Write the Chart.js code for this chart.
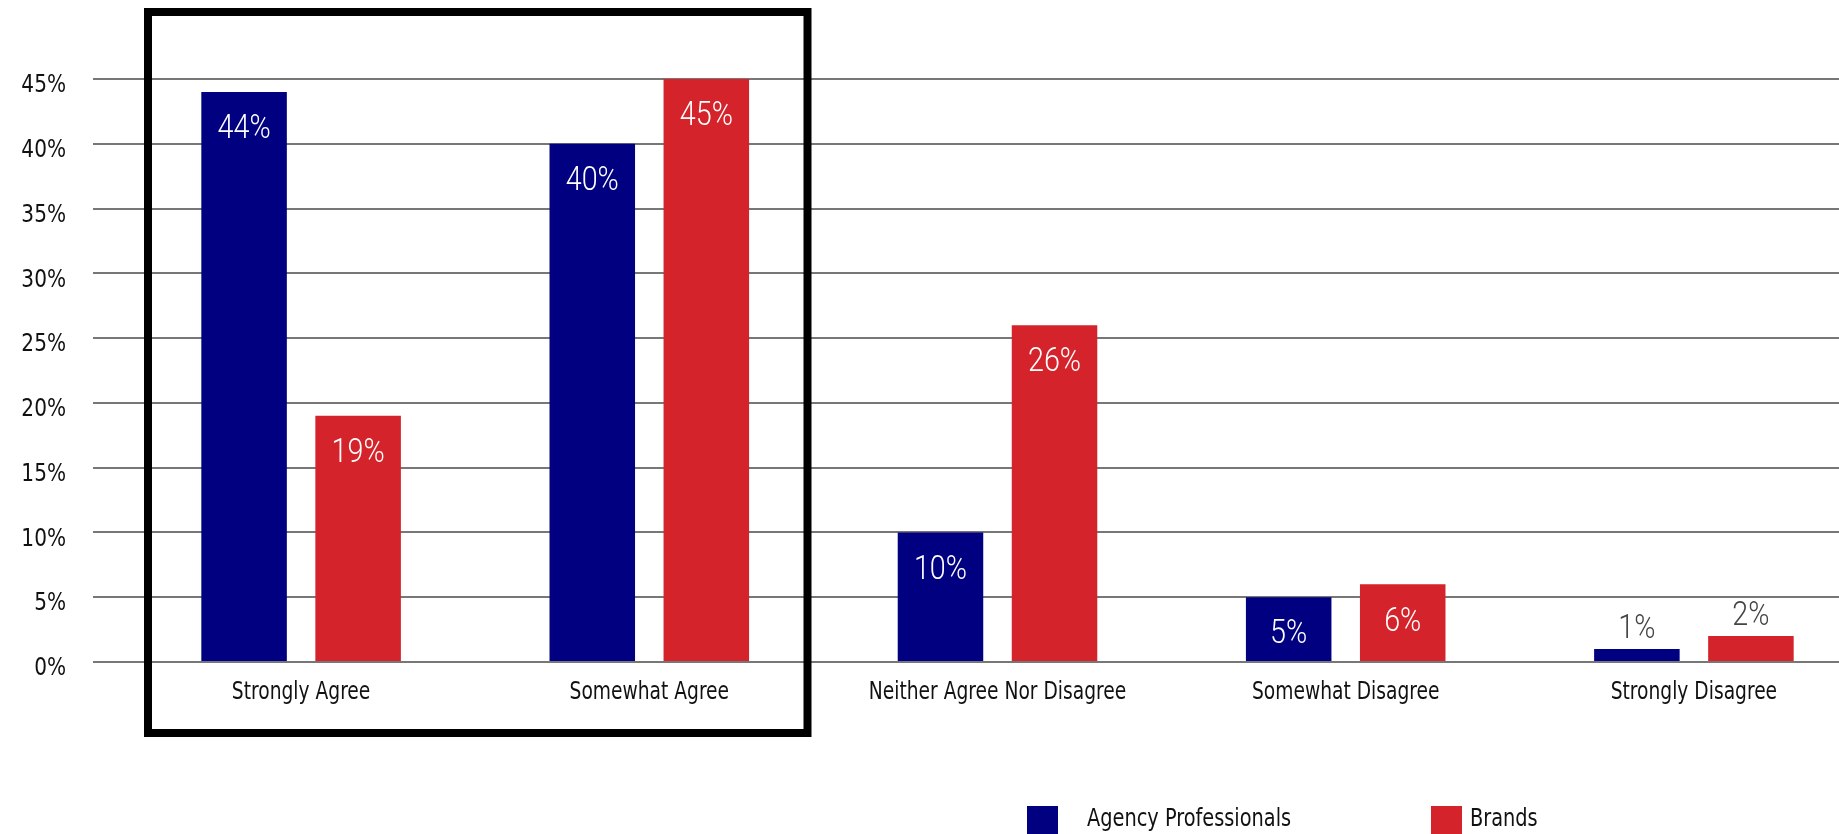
<!DOCTYPE html>
<html>
<head>
<meta charset="utf-8">
<script src="https://cdn.jsdelivr.net/npm/chart.js@4/dist/chart.umd.min.js"></script>
<style>
  html, body { margin: 0; padding: 0; background: #fff; overflow: hidden; }
  #wrap { position: relative; width: 1868px; height: 834px; }
</style>
</head>
<body>
<div id="wrap"><canvas id="c"></canvas></div>
<script>
// Survey responses, share of respondents (%)
const categories = ['Strongly Agree', 'Somewhat Agree', 'Neither Agree Nor Disagree', 'Somewhat Disagree', 'Strongly Disagree'];
const agencyValues = [44, 40, 10, 5, 1];
const brandValues = [19, 45, 26, 6, 2];
const seriesNames = ['Agency Professionals', 'Brands'];
const yTickValues = [0, 5, 10, 15, 20, 25, 30, 35, 40, 45];
const yTickLabels = ['0%', '5%', '10%', '15%', '20%', '25%', '30%', '35%', '40%', '45%'];

const FONT = "'DejaVu Sans Condensed', 'DejaVu Sans', sans-serif";
const LIGHT_FONT = "Roboto, 'DejaVu Sans', sans-serif";
const NAVY = '#000080';
const RED = '#d4232b';

// Condensed text: horizontally squeezed fillText
function squeezedText(ctx, text, x, y, opts) {
  ctx.save();
  ctx.font = (opts.weight || 400) + ' ' + opts.size + 'px ' + (opts.family || FONT);
  ctx.fillStyle = opts.color;
  ctx.textAlign = opts.align || 'center';
  ctx.textBaseline = opts.baseline || 'middle';
  ctx.translate(x, y);
  ctx.scale(opts.sx || 0.83, 1);
  ctx.fillText(text, 0, 0);
  ctx.restore();
}

// Axis labels drawn from the chart's own scales
const axisLabels = {
  id: 'axisLabels',
  afterDraw(chart) {
    const ctx = chart.ctx;
    const xs = chart.scales.x, ys = chart.scales.y;
    categories.forEach((c, i) => {
      squeezedText(ctx, c, xs.getPixelForValue(i), chart.chartArea.bottom + 30,
        { size: 25, color: '#111', sx: 0.83 });
    });
    yTickValues.forEach((v, i) => {
      squeezedText(ctx, yTickLabels[i], 66, ys.getPixelForValue(v) + 7,
        { size: 24, color: '#111', align: 'right', sx: 0.93 });
    });
  }
};

// Percentage labels: inside the top of tall bars, above short ones
const valueLabels = {
  id: 'valueLabels',
  afterDatasetsDraw(chart) {
    const ctx = chart.ctx;
    chart.data.datasets.forEach((ds, di) => {
      chart.getDatasetMeta(di).data.forEach((bar, i) => {
        const v = ds.data[i];
        const txt = v + '%';
        const style = { size: 33, weight: 300, family: LIGHT_FONT, sx: 0.87 };
        if (v >= 3) {
          squeezedText(ctx, txt, bar.x, bar.y + 38, Object.assign({ color: '#ffffff' }, style));
        } else {
          squeezedText(ctx, txt, bar.x, bar.y - 11, Object.assign({ color: '#444444', baseline: 'alphabetic' }, style));
        }
      });
    });
  }
};

// Heavy frame around the two "agree" groups
const agreeFrame = {
  id: 'agreeFrame',
  afterDraw(chart) {
    const ctx = chart.ctx;
    ctx.save();
    ctx.strokeStyle = '#000';
    ctx.lineWidth = 8;
    ctx.strokeRect(148, 12, 659.5, 721);
    ctx.restore();
  }
};

// Legend row along the bottom edge
const bottomLegend = {
  id: 'bottomLegend',
  afterDraw(chart) {
    const ctx = chart.ctx;
    const boxX = [1027, 1431];
    const textX = [1087, 1470];
    chart.data.datasets.forEach((ds, i) => {
      ctx.save();
      ctx.fillStyle = ds.backgroundColor;
      ctx.fillRect(boxX[i], 806, 31, 31);
      ctx.restore();
      squeezedText(ctx, ds.label, textX[i], 819, { size: 25, color: '#111', align: 'left', sx: 0.86 });
    });
  }
};

new Chart(document.getElementById('c'), {
  type: 'bar',
  data: {
    labels: categories,
    datasets: [
      { label: seriesNames[0], data: agencyValues, backgroundColor: NAVY },
      { label: seriesNames[1], data: brandValues, backgroundColor: RED }
    ]
  },
  options: {
    responsive: true,
    maintainAspectRatio: false,
    animation: false,
    layout: { padding: { top: 79, left: 0, right: 0, bottom: 0 } },
    datasets: { bar: { barPercentage: 0.75, categoryPercentage: 0.655 } },
    plugins: {
      legend: { display: false },
      tooltip: { enabled: false }
    },
    scales: {
      x: {
        grid: { display: false },
        border: { display: false },
        ticks: { display: false },
        afterFit(scale) { scale.height = 172; }
      },
      y: {
        min: 0,
        max: 45,
        afterBuildTicks(scale) { scale.ticks = yTickValues.map(v => ({ value: v })); },
        grid: { color: '#777', lineWidth: 2, drawTicks: true, tickLength: 34, tickColor: '#777' },
        border: { display: false },
        ticks: { display: false },
        afterFit(scale) { scale.width = 127; }
      }
    }
  },
  plugins: [valueLabels, axisLabels, agreeFrame, bottomLegend]
});
</script>
</body>
</html>
